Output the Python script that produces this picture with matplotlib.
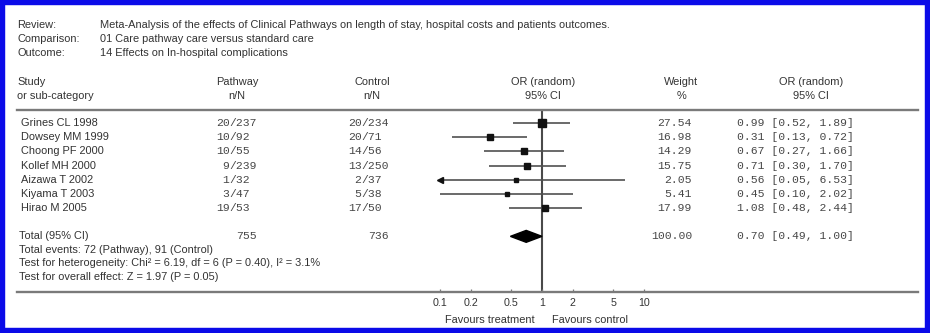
import numpy as np
import matplotlib
matplotlib.use("Agg")
import matplotlib.pyplot as plt
from matplotlib.patches import Rectangle
from matplotlib.transforms import blended_transform_factory


# ============================================================
# Data
# ============================================================

REVIEW = "Meta-Analysis of the effects of Clinical Pathways on length of stay, hospital costs and patients outcomes."
COMPARISON = "01 Care pathway care versus standard care"
OUTCOME = "14 Effects on In-hospital complications"

studies = ["Grines CL 1998", "Dowsey MM 1999", "Choong PF 2000", "Kollef MH 2000",
           "Aizawa T 2002", "Kiyama T 2003", "Hirao M 2005"]
path_events = [20, 10, 10, 9, 1, 3, 19]
path_total = [237, 92, 55, 239, 32, 47, 53]
ctrl_events = [20, 20, 14, 13, 2, 5, 17]
ctrl_total = [234, 71, 56, 250, 37, 38, 50]
weights = [27.54, 16.98, 14.29, 15.75, 2.05, 5.41, 17.99]
odds = [0.99, 0.31, 0.67, 0.71, 0.56, 0.45, 1.08]
ci_lo = [0.52, 0.13, 0.27, 0.30, 0.05, 0.10, 0.48]
ci_hi = [1.89, 0.72, 1.66, 1.70, 6.53, 2.02, 2.44]

total_path = 755
total_ctrl = 736
total_weight = 100.00
total_or = 0.70
total_lo = 0.49
total_hi = 1.00

footer_lines = [
    "Total events: 72 (Pathway), 91 (Control)",
    "Test for heterogeneity: Chi\u00b2 = 6.19, df = 6 (P = 0.40), I\u00b2 = 3.1%",
    "Test for overall effect: Z = 1.97 (P = 0.05)",
]

tick_values = [0.1, 0.2, 0.5, 1, 2, 5, 10]
tick_labels = ["0.1", "0.2", "0.5", "1", "2", "5", "10"]


# ============================================================
# Layout / style
# ============================================================

W, H = 930, 333
SANS = "Liberation Sans"
MONO = "Liberation Mono"
FS = 7.9
FS_MONO = 8.2
TXT = "#333333"
MONO_C = "#474747"
LINE_C = "#7a7a7a"
CI_C = "#505050"
BORDER = "#0b0be8"

# pixel positions of x = 1 and one decade on the log axis
X_ONE = 542.0
DECADE = 102.0
AX_L, AX_R = 17, 918
AX_TOP, AX_BOT = 109.5, 292
ROW0, ROW_STEP = 123.0, 14.17


def fx(px):
    return px / W


def fy(py):
    return 1 - py / H


def row_of(py):
    return (py - ROW0) / ROW_STEP


fig = plt.figure(figsize=(W / 100, H / 100), dpi=100)
fig.patch.set_facecolor("white")

ax = fig.add_axes([fx(AX_L), fy(AX_BOT), (AX_R - AX_L) / W, (AX_BOT - AX_TOP) / H])
ax.set_xscale("log")
ax.set_xlim(10 ** ((AX_L - X_ONE) / DECADE), 10 ** ((AX_R - X_ONE) / DECADE))
ax.set_ylim(row_of(AX_BOT), row_of(AX_TOP))
ax.patch.set_alpha(0)

for side in ["left", "right"]:
    ax.spines[side].set_visible(False)
for side in ["top", "bottom"]:
    ax.spines[side].set_color(LINE_C)
    ax.spines[side].set_linewidth(1.7)

ax.set_xticks(tick_values)
ax.set_xticklabels(tick_labels, fontsize=FS - 0.2, color=TXT, family=SANS)
ax.xaxis.set_minor_locator(matplotlib.ticker.NullLocator())
ax.tick_params(axis="x", direction="in", length=2.5, width=0.9, color=LINE_C, pad=4)
ax.set_yticks([])

# line of no effect
ax.axvline(1, color="#4a4a4a", lw=1.5, zorder=1)

# study rows
plot_min, plot_max = 0.1, 10
for i in range(len(studies)):
    lo = max(ci_lo[i], plot_min)
    hi = min(ci_hi[i], plot_max)
    ax.plot([lo, hi], [i, i], color=CI_C, lw=1.2, zorder=2, solid_capstyle="butt")
    if ci_lo[i] < plot_min:
        ax.plot([plot_min], [i], marker="<", color="#111111", markersize=4.8, zorder=3)
    msize = (4.3 + 0.12 * weights[i]) * 0.72
    ax.plot([odds[i]], [i], marker="s", color="#111111", markersize=msize, zorder=3)

# pooled diamond
total_row = 8
h = 0.42
ax.fill([total_lo, total_or, total_hi, total_or],
        [total_row, total_row - h, total_row, total_row + h],
        color="#000000", zorder=3)

# ============================================================
# Text
# ============================================================

trans = blended_transform_factory(fig.transFigure, ax.transData)


def sans(px, row, s, ha="left"):
    ax.text(fx(px), row, s, transform=trans, ha=ha, va="center",
            fontsize=FS, color=TXT, family=SANS)


def mono(px, row, s, ha="left"):
    ax.text(fx(px), row, s, transform=trans, ha=ha, va="center",
            fontsize=FS_MONO, color=MONO_C, family=MONO)


def ftext(px, py, s, ha="left"):
    fig.text(fx(px), fy(py), s, ha=ha, va="center", fontsize=FS, color=TXT, family=SANS)


# header block
for py, label, value in [(25, "Review:", REVIEW), (39, "Comparison:", COMPARISON), (53, "Outcome:", OUTCOME)]:
    ftext(17, py, label)
    ftext(100, py, value)

ftext(17, 82, "Study")
ftext(17, 96, "or sub-category")
for cx, top, bottom in [(237, "Pathway", "n/N"), (372, "Control", "n/N"),
                        (543, "OR (random)", "95% CI"), (681, "Weight", "%"),
                        (811, "OR (random)", "95% CI")]:
    ftext(cx, 82, top, ha="center")
    ftext(cx, 96, bottom, ha="center")

# study table, counts aligned on the slash
PATH_SLASH, CTRL_SLASH = 229.5, 361.5
WEIGHT_R, OR_L = 692, 737
for i, name in enumerate(studies):
    sans(21, i, name)
    mono(PATH_SLASH, i, str(path_events[i]), ha="right")
    mono(PATH_SLASH, i, f"/{path_total[i]}")
    mono(CTRL_SLASH, i, str(ctrl_events[i]), ha="right")
    mono(CTRL_SLASH, i, f"/{ctrl_total[i]}")
    mono(WEIGHT_R, i, f"{weights[i]:.2f}", ha="right")
    mono(OR_L, i, f"{odds[i]:.2f} [{ci_lo[i]:.2f}, {ci_hi[i]:.2f}]")

sans(19, total_row, "Total (95% CI)")
mono(PATH_SLASH + 27.5, total_row, str(total_path), ha="right")
mono(CTRL_SLASH + 27.5, total_row, str(total_ctrl), ha="right")
mono(WEIGHT_R, total_row, f"{total_weight:.2f}", ha="right")
mono(OR_L, total_row, f"{total_or:.2f} [{total_lo:.2f}, {total_hi:.2f}]")

for k, line in enumerate(footer_lines):
    sans(19, total_row + 0.95 * (k + 1), line)

ftext(535, 320, "Favours treatment", ha="right")
ftext(552, 320, "Favours control")

# blue frame round the whole picture
fig.add_artist(Rectangle((0, 0), 1, 1, transform=fig.transFigure, fill=False,
                         edgecolor=BORDER, linewidth=7.5, clip_on=False))

fig.savefig("out.png", dpi=100)
